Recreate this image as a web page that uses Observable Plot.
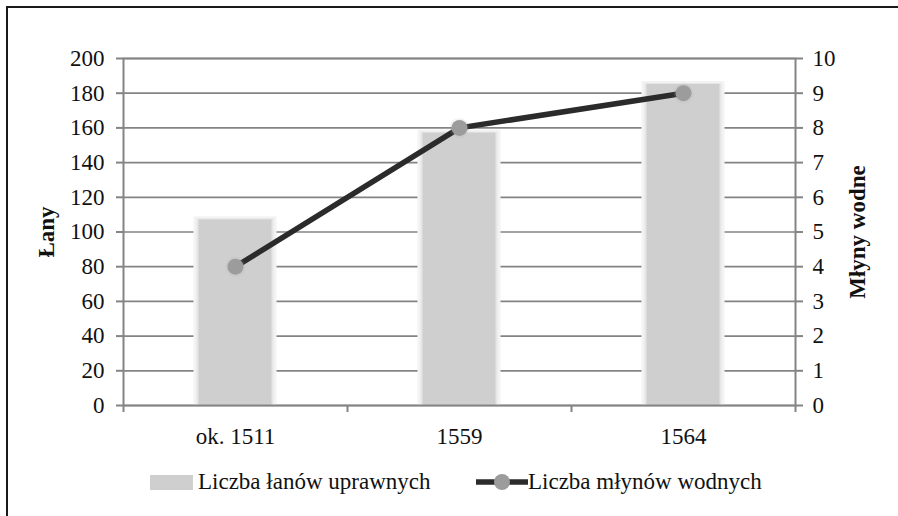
<!DOCTYPE html>
<html><head><meta charset="utf-8">
<script src="https://cdn.jsdelivr.net/npm/d3@7"></script>
<script src="https://cdn.jsdelivr.net/npm/@observablehq/plot@0.6"></script>
<style>
body{margin:0;background:#fff;}
#wrap{position:relative;width:898px;height:516px;overflow:hidden;font-family:"Liberation Serif","Times New Roman",serif;color:#111;}
#frame{position:absolute;left:6px;top:6px;width:900px;height:520px;border-left:2px solid #1a1a1a;border-top:2px solid #1a1a1a;pointer-events:none;}
#chart{position:absolute;left:0;top:0;}
.ytitle{position:absolute;font-weight:bold;font-size:23px;white-space:nowrap;transform:translate(-50%,-50%) rotate(-90deg);}
#legend{position:absolute;top:468px;left:0;width:898px;height:30px;font-size:23px;}
.lg{position:absolute;top:0;white-space:nowrap;line-height:28px;}
</style>
</head><body>
<div id="wrap">
  <div id="chart"></div>
  <div class="ytitle" id="tl" style="left:47px;top:232px;"></div>
  <div class="ytitle" id="tr" style="left:858px;top:232px;"></div>
  <div id="legend"></div>
  <div id="frame"></div>
</div>
<script>
const years = ["ok. 1511", "1559", "1564"];
const lany = [107, 157, 185];
const mlyny = [4, 8, 9];
const leftTicks = [0, 20, 40, 60, 80, 100, 120, 140, 160, 180, 200];
const rightTicks = [0, 1, 2, 3, 4, 5, 6, 7, 8, 9, 10];
const leftTitle = "Łany";
const rightTitle = "Młyny wodne";
const seriesNames = ["Liczba łanów uprawnych", "Liczba młynów wodnych"];

const ratio = leftTicks[leftTicks.length - 1] / rightTicks[rightTicks.length - 1];
const data = years.map((y, i) => ({year: y, lany: lany[i], mlyny: mlyny[i]}));

const W = 898, H = 516, mL = 123, mR = 103, mT = 58, mB = 111;
const step = (W - mL - mR) / years.length;
const barW = 73;
const inset = (step - barW) / 2;

const ff = "'Liberation Serif', 'Times New Roman', serif";
const axisStyle = {fontSize: 23, fontFamily: ff};

const plot = Plot.plot({
  width: W, height: H,
  marginLeft: mL, marginRight: mR, marginTop: mT, marginBottom: mB,
  style: {background: "transparent", fontFamily: ff, fontSize: "23px", color: "#111"},
  x: {type: "band", domain: years, padding: 0, axis: null},
  y: {domain: [0, leftTicks[leftTicks.length - 1]], axis: null},
  marks: [
    Plot.ruleY(leftTicks, {y: d => d, stroke: "#848484", strokeWidth: 1.7}),
    Plot.barY(data, {x: "year", y: "lany", fill: "#f3f3f3", insetLeft: inset - 5, insetRight: inset - 5, insetTop: -3}),
    Plot.barY(data, {x: "year", y: "lany", fill: "#e6e6e6", insetLeft: inset - 2, insetRight: inset - 2, insetTop: -1}),
    Plot.barY(data, {x: "year", y: "lany", fill: "#cfcfcf", insetLeft: inset, insetRight: inset}),
    Plot.frame({stroke: "#848484", strokeWidth: 2}),
    Plot.axisY({anchor: "left", ticks: leftTicks, tickSize: 7, tickPadding: 12, stroke: "#848484", strokeWidth: 2, label: null, ...axisStyle}),
    Plot.axisY({anchor: "right", ticks: leftTicks, tickFormat: d => d / ratio, tickSize: 7, tickPadding: 10, stroke: "#848484", strokeWidth: 2, label: null, ...axisStyle}),
    Plot.axisX({ticks: years, tickSize: 7, tickFormat: () => "", stroke: "#848484", strokeWidth: 2, dx: -step / 2, label: null}),
    Plot.axisX({ticks: years.slice(-1), tickSize: 7, tickFormat: () => "", stroke: "#848484", strokeWidth: 2, dx: step / 2, label: null}),
    Plot.axisX({ticks: years, tickSize: 0, tickPadding: 22, label: null, ...axisStyle}),
    Plot.line(data, {x: "year", y: d => d.mlyny * ratio, stroke: "#2b2b2b", strokeWidth: 5.5}),
    Plot.dot(data, {x: "year", y: d => d.mlyny * ratio, r: 10, fill: "rgba(170,170,170,0.15)", stroke: "none"}),
    Plot.dot(data, {x: "year", y: d => d.mlyny * ratio, r: 8, fill: "#9c9c9c", stroke: "none"})
  ]
});
document.getElementById("chart").appendChild(plot);
document.getElementById("tl").textContent = leftTitle;
document.getElementById("tr").textContent = rightTitle;

const lg = document.getElementById("legend");
lg.innerHTML =
  `<div class="lg" style="left:150px;"><span style="display:inline-block;width:43px;height:15px;background:#cfcfcf;vertical-align:middle;margin-right:5px;position:relative;top:-1px;"></span>${seriesNames[0]}</div>` +
  `<div class="lg" style="left:476px;"><svg width="52" height="20" style="vertical-align:middle;position:relative;top:-2px;"><line x1="1" y1="10" x2="51" y2="10" stroke="#2b2b2b" stroke-width="5.5" stroke-linecap="round"/><circle cx="26" cy="10" r="8" fill="#9c9c9c"/></svg>${seriesNames[1]}</div>`;
</script>
</body></html>
